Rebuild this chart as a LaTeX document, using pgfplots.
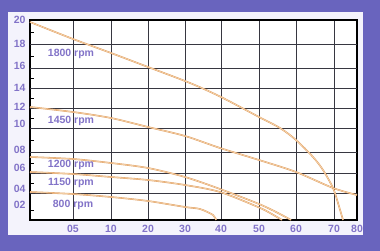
\documentclass[border=0pt]{standalone}
\usepackage{pgfplots}
\pgfplotsset{compat=1.18}
\usepackage{fontspec}
\setmainfont{Liberation Sans}
\definecolor{frame}{RGB}{105,100,190}
\definecolor{panel}{RGB}{244,243,252}
\definecolor{lbl}{RGB}{130,115,200}
\definecolor{curve}{RGB}{225,160,100}
\definecolor{curvein}{RGB}{250,225,190}
\definecolor{gridc}{RGB}{55,55,65}
\tikzset{pump/.style={draw=curve, line width=0.55pt, double=curvein, double distance=0.5pt, smooth, tension=0.5, no marks}}
\begin{document}
\begin{tikzpicture}[x=1pt,y=1pt]
\fill[frame] (0,0) rectangle (380,251);
\fill[panel] (8,16) rectangle (363,239);
\begin{axis}[at={(30pt,31pt)}, anchor=south west, scale only axis,
  width=327pt, height=200pt,
  xmin=0, xmax=327, ymin=0, ymax=200,
  axis background/.style={fill=white},
  axis line style={black, line width=1.1pt},
  xtick={43,81,118,155,191,229,266,304,327},
  xticklabels={05,10,20,30,40,50,60,70,80},
  xmajorgrids=true,
  grid style={gridc, line width=0.9pt},
  ytick={15,31,52,70,96,113,132,154,176,200},
  yticklabels={02,04,06,08,10,12,14,16,18,20},
  extra y ticks={27,47,68,92,112,132,152,176},
  extra y tick labels={},
  extra y tick style={grid=major},
  minor ytick={10,37,57,80,102,122,142,164,188},
  major tick length=0pt,
  minor tick length=4pt,
  ytick pos=left, xtick pos=bottom,
  tick align=inside,
  minor tick style={black, line width=0.9pt},
  ticklabel style={lbl, font=\bfseries\fontsize{10.5}{12}\selectfont},
  xticklabel style={yshift=-2pt},
  yticklabel style={xshift=-1pt},
  clip=false,
]
\addplot[pump] coordinates {
(0,198) (43,181) (81,167) (118,153) (160,137) (191,123) (229,103) (250,92) (266,80) (283,63) (293,50) (303,32) (308,17) (313,0)};
\addplot[pump] coordinates {
(0,113) (43,108) (81,102) (118,93) (155,84) (190,72) (229,60) (266,48) (303,32) (327,25)};
\addplot[pump] coordinates {
(0,63) (43,61) (81,57) (118,52) (155,43) (190,31) (229,16) (248,7) (261,0)};
\addplot[pump] coordinates {
(0,48) (43,46) (81,43) (118,40) (155,35) (190,28) (228,13) (240,7) (252,0)};
\addplot[pump] coordinates {
(0,28) (43,26) (81,23) (118,19) (155,13) (170,11) (183,5) (186,0)};
\begin{scope}[every node/.style={lbl, font=\bfseries\fontsize{10.5}{12}\selectfont}]
\node at (axis cs:41,166) {1800 rpm};
\node at (axis cs:41,99) {1450 rpm};
\node at (axis cs:41,55) {1200 rpm};
\node at (axis cs:41,37) {1150 rpm};
\node at (axis cs:43,15) {800 rpm};
\end{scope}
\end{axis}
\end{tikzpicture}
\end{document}
